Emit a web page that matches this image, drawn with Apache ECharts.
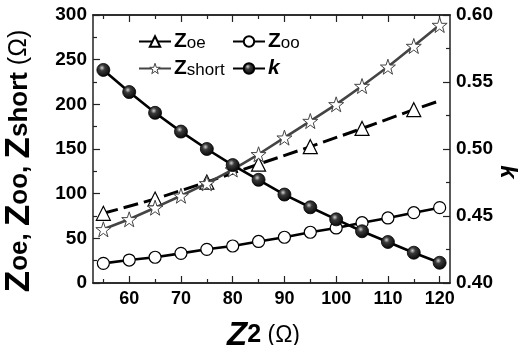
<!DOCTYPE html>
<html>
<head>
<meta charset="utf-8">
<script src="https://cdn.jsdelivr.net/npm/echarts@6/dist/echarts.min.js"></script>
<style>
  html, body { margin: 0; padding: 0; background: #fff; }
  #chart { width: 518px; height: 345px; }
</style>
</head>
<body>
<div id="chart"></div>
<script>
// Z2 (Ω) sweep
const z2 = [55, 60, 65, 70, 75, 80, 85, 90, 95, 100, 105, 110, 115, 120]
const zoo = [22.0, 25.7, 28.8, 33.2, 37.7, 41.4, 46.5, 51.2, 56.8, 61.6, 67.5, 72.8, 78.7, 84.3]
const zshort = [60.1, 71.3, 84.3, 97.7, 111.6, 127, 144.1, 162.7, 181.3, 200.0, 220.5, 242.1, 265.3, 288.8]
const kVals = [0.559, 0.5425, 0.527, 0.513, 0.500, 0.488, 0.477, 0.466, 0.4565, 0.4475, 0.4386, 0.4306, 0.4226, 0.4151]
// Zoe markers were drawn on every other point only
const zoeX = [55, 65, 75, 85, 95, 105, 115, 120]
const zoe = [78, 94, 113, 133, 152.6, 173, 194, 204]

const xMajor = [60, 70, 80, 90, 100, 110, 120]
const xMinor = [55, 65, 75, 85, 95, 105, 115]

const FONT = 'Liberation Sans, Arial, sans-serif'
const INK = '#222'
const STAR = 'path://M50,0 L61.8,35.1 L97.6,35.1 L68.8,56.8 L79.4,90.5 L50,69.8 L20.6,90.5 L31.2,56.8 L2.4,35.1 L38.2,35.1 Z'

const pairs = (xs, ys) => xs.map((x, i) => [x, ys[i]])

const axisLine = { show: true, lineStyle: { color: INK, width: 1.5 } }

function xAxisDef(pos, ticks, len, withLabels) {
  return {
    type: 'value', position: pos, min: 53, max: 122,
    axisLine, splitLine: { show: false },
    axisTick: { show: true, inside: true, length: len, customValues: ticks, lineStyle: { color: INK, width: 1.2 } },
    axisLabel: withLabels
      ? { show: true, customValues: ticks, margin: 7, color: '#000', fontFamily: FONT, fontWeight: 'bold', fontSize: 18 }
      : { show: false },
  }
}

const legendRich = {
  z: { fontFamily: FONT, fontWeight: 'bold', fontSize: 21, color: '#000', lineHeight: 20 },
  s: { fontFamily: FONT, fontSize: 17, color: '#000', lineHeight: 20, verticalAlign: 'bottom' },
  k: { fontFamily: FONT, fontWeight: 'bold', fontStyle: 'italic', fontSize: 21, color: '#000', lineHeight: 20 },
}
const legendFmt = (name) => name === 'k' ? '{k|k}' : `{z|Z}{s|${name.slice(1)}}`

const legendBase = {
  orient: 'vertical', top: 26, itemWidth: 32, itemHeight: 13, itemGap: 6,
  lineStyle: { type: 'solid' },
  formatter: legendFmt,
  textStyle: { rich: legendRich, padding: [0, 0, 0, -2] },
}

const starStyle = { color: '#fff', borderColor: '#444', borderWidth: 1 }

const chart = echarts.init(document.getElementById('chart'))
chart.setOption({
  animation: false,
  backgroundColor: '#fff',
  grid: { left: 93, right: 68, top: 15, bottom: 62, outerBoundsMode: 'none' },
  legend: [
    { ...legendBase, left: 133, data: ['Zoe', { name: 'Zshort', itemStyle: starStyle }] },
    { ...legendBase, left: 227, data: ['Zoo', 'k'] },
  ],
  xAxis: [
    {
      ...xAxisDef('bottom', xMajor, 7, true),
      name: '{z|Z}{n|2}{p| (Ω)}',
      nameLocation: 'middle', nameGap: 36, nameMoveOverlap: false,
      nameTextStyle: {
        rich: {
          z: { fontFamily: FONT, fontWeight: 'bold', fontStyle: 'italic', fontSize: 33, color: '#000' },
          n: { fontFamily: FONT, fontWeight: 'bold', fontSize: 25, color: '#000' },
          p: { fontFamily: FONT, fontSize: 23, color: '#000' },
        },
        padding: [0, 16, 0, 0],
      },
    },
    xAxisDef('bottom', xMinor, 4, false),
    xAxisDef('top', xMajor, 7, false),
    xAxisDef('top', xMinor, 4, false),
  ],
  yAxis: [
    {
      type: 'value', position: 'left', min: 0, max: 300, interval: 50,
      axisLine, splitLine: { show: false },
      axisTick: { show: true, inside: true, length: 7, lineStyle: { color: INK, width: 1.2 } },
      minorTick: { show: true, splitNumber: 2, length: 4, lineStyle: { color: INK, width: 1.2 } },
      axisLabel: { margin: 6, color: '#000', fontFamily: FONT, fontWeight: 'bold', fontSize: 19 },
      name: '{z|Z}{s|oe}{c|, }{z|Z}{s|oo}{c|, }{z|Z}{s|short}{p| (Ω)}',
      nameLocation: 'middle', nameGap: 56, nameMoveOverlap: false,
      nameTextStyle: {
        rich: {
          z: { fontFamily: FONT, fontWeight: 'bold', fontSize: 35, color: '#000' },
          s: { fontFamily: FONT, fontWeight: 'bold', fontSize: 26, color: '#000' },
          c: { fontFamily: FONT, fontWeight: 'bold', fontSize: 26, color: '#000' },
          p: { fontFamily: FONT, fontSize: 25, color: '#000' },
        },
        padding: [0, 24, 0, 0],
      },
    },
    {
      type: 'value', position: 'right', min: 0.4, max: 0.6, interval: 0.05,
      axisLine, splitLine: { show: false },
      axisTick: { show: true, inside: true, length: 7, lineStyle: { color: INK, width: 1.2 } },
      minorTick: { show: true, splitNumber: 2, length: 4, lineStyle: { color: INK, width: 1.2 } },
      axisLabel: { margin: 6, color: '#000', fontFamily: FONT, fontWeight: 'bold', fontSize: 19, formatter: (v) => v.toFixed(2) },
      name: 'k',
      nameLocation: 'middle', nameGap: 46, nameRotate: -90, nameMoveOverlap: false,
      nameTextStyle: { fontFamily: FONT, fontWeight: 'bold', fontStyle: 'italic', fontSize: 24, color: '#000', padding: [0, 0, 0, 46] },
    },
  ],
  series: [
    {
      name: 'Zoe', type: 'line', xAxisIndex: 0, yAxisIndex: 0,
      data: pairs(zoeX, zoe),
      symbol: 'triangle',
      symbolSize: (v, p) => p.dataIndex === zoeX.length - 1 ? 0 : 14,
      lineStyle: { color: '#000', width: 3, type: [15, 6] },
      itemStyle: { color: '#fff', borderColor: '#000', borderWidth: 1.2 },
      z: 2,
    },
    {
      name: 'Zoo', type: 'line', xAxisIndex: 0, yAxisIndex: 0,
      data: pairs(z2, zoo),
      symbol: 'circle', symbolSize: 12,
      lineStyle: { color: '#000', width: 2.6 },
      itemStyle: { color: '#fff', borderColor: '#000', borderWidth: 1.2 },
      z: 3,
    },
    {
      name: 'Zshort', type: 'line', xAxisIndex: 0, yAxisIndex: 0,
      data: pairs(z2, zshort),
      symbol: STAR, symbolSize: 15,
      lineStyle: { color: '#444', width: 2.6 },
      itemStyle: starStyle,
      z: 4,
    },
    {
      name: 'k', type: 'line', xAxisIndex: 0, yAxisIndex: 1,
      data: pairs(z2, kVals),
      symbol: 'circle', symbolSize: 13,
      lineStyle: { color: '#000', width: 2.6 },
      itemStyle: {
        color: new echarts.graphic.RadialGradient(0.4, 0.35, 0.7, [
          { offset: 0, color: '#d0d0d0' },
          { offset: 0.3, color: '#3a3a3a' },
          { offset: 1, color: '#000' },
        ]),
        borderColor: '#000', borderWidth: 0.8,
      },
      z: 5,
    },
  ],
})
</script>
</body>
</html>
